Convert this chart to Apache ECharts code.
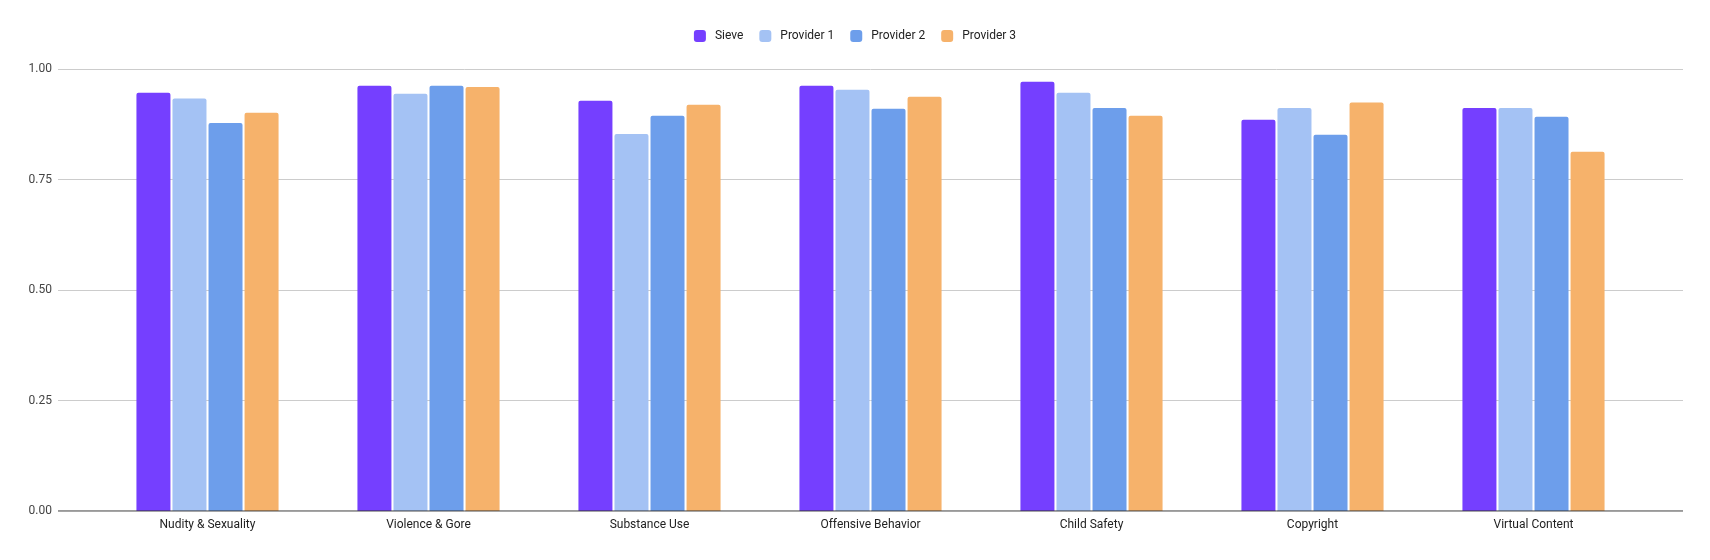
<!DOCTYPE html>
<html>
<head>
<meta charset="utf-8">
<script src="https://cdn.jsdelivr.net/npm/echarts@6/dist/echarts.min.js"></script>
<style>html,body{margin:0;padding:0;background:#fff;}#c{width:1710px;height:560px;}</style>
</head>
<body>
<div id="c"></div>
<script>
const categories = ['Nudity & Sexuality','Violence & Gore','Substance Use','Offensive Behavior','Child Safety','Copyright','Virtual Content'];
const seriesNames = ['Sieve','Provider 1','Provider 2','Provider 3'];
const sieve     = [0.946, 0.962, 0.928, 0.962, 0.971, 0.885, 0.912];
const provider1 = [0.933, 0.944, 0.853, 0.953, 0.946, 0.912, 0.912];
const provider2 = [0.878, 0.962, 0.894, 0.910, 0.912, 0.851, 0.892];
const provider3 = [0.901, 0.959, 0.919, 0.937, 0.894, 0.924, 0.813];
const yTicks = [0, 0.25, 0.5, 0.75, 1];
const colors = ['#753fff','#a4c2f4','#6d9eeb','#f6b26b'];
const allData = [sieve, provider1, provider2, provider3];

const chart = echarts.init(document.getElementById('c'));
const font = 'Roboto';
chart.setOption({
  animation: false,
  textStyle: {fontFamily: font},
  legend: {
    top: 25, left: 'center',
    itemWidth: 12, itemHeight: 12, itemGap: 16,
    icon: 'roundRect',
    textStyle: {fontFamily: font, fontSize: 12, color: '#222', padding: [0,0,0,4]},
    data: seriesNames
  },
  grid: [
    {left: 58, right: 27, top: 69, bottom: 49},
    {left: 97, right: 66, top: 69, bottom: 49}
  ],
  xAxis: [
    {gridIndex: 0, type: 'value', min: 0, max: 1, show: true,
     axisLine: {show: false}, axisTick: {show: false}, axisLabel: {show: false}, splitLine: {show: false}},
    {gridIndex: 1, type: 'category', data: categories,
     axisLine: {show: false}, axisTick: {show: false},
     axisLabel: {fontFamily: font, fontSize: 12, color: '#222', margin: 8}}
  ],
  yAxis: [
    {gridIndex: 0, type: 'value', min: 0, max: 1, interval: 0.25,
     axisLine: {show: false}, axisTick: {show: false},
     axisLabel: {fontFamily: font, fontSize: 12, color: '#444', margin: 6,
       formatter: v => yTicks.includes(v) ? v.toFixed(2) : ''},
     splitLine: {lineStyle: {color: '#cccccc', width: 1}}},
    {gridIndex: 1, type: 'value', min: 0, max: 1, interval: 0.25, show: false}
  ],
  series: [
    {type: 'line', xAxisIndex: 0, yAxisIndex: 0, data: [[0,0],[1,0]], symbol: 'none',
     lineStyle: {color: '#333', width: 1}, silent: true, z: 5, legendHoverLink: false}
  ].concat(seriesNames.map((n, i) => ({
    name: n, type: 'bar', xAxisIndex: 1, yAxisIndex: 1,
    data: allData[i], barWidth: 34, barGap: '6%',
    itemStyle: {color: colors[i], borderRadius: [2,2,0,0]}
  })))
});
</script>
</body>
</html>
